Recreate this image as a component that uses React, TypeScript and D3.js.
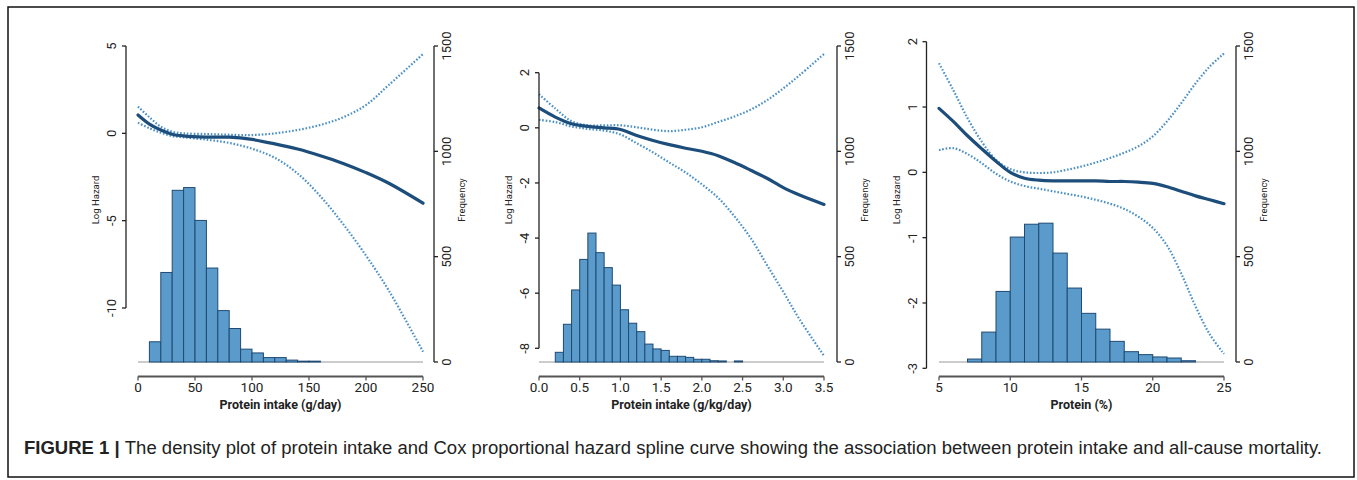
import React, { useEffect, useRef } from "react";
import * as d3 from "d3";

// ---- data ----
// panel 1: protein intake (g/day)
const gdayBins = [10, 20, 30, 40, 50, 60, 70, 80, 90, 100, 110, 120, 130, 140, 150];
const gdayFreq = [96, 425, 815, 828, 672, 446, 244, 159, 61, 43, 21, 21, 9, 4, 4];
const gdayX = [0, 10, 20, 30, 40, 60, 80, 100, 120, 140, 160, 180, 200, 220, 250];
const gdayFit = [1.05, 0.53, 0.19, -0.05, -0.15, -0.22, -0.22, -0.35, -0.6, -0.9, -1.28, -1.72, -2.25, -2.86, -4.0];
const gdayUpper = [1.53, 0.92, 0.38, 0.1, 0.0, -0.04, -0.08, -0.1, 0.0, 0.19, 0.48, 0.92, 1.62, 2.77, 4.54];
const gdayLower = [0.61, 0.29, 0.04, -0.15, -0.23, -0.36, -0.55, -0.88, -1.4, -2.3, -3.6, -5.2, -7.0, -9.0, -12.5];

// panel 2: protein intake (g/kg/day)
const gkgBins = [0.2, 0.3, 0.4, 0.5, 0.6, 0.7, 0.8, 0.9, 1.0, 1.1, 1.2, 1.3, 1.4, 1.5, 1.6, 1.7, 1.8, 1.9, 2.0, 2.1, 2.2, 2.3, 2.4];
const gkgFreq = [46, 179, 342, 487, 612, 519, 448, 365, 248, 184, 144, 85, 62, 55, 27, 27, 22, 13, 13, 6, 5, 0, 5];
const gkgX = [0, 0.2, 0.4, 0.6, 0.8, 1.0, 1.2, 1.4, 1.6, 1.8, 2.0, 2.2, 2.4, 2.6, 2.8, 3.0, 3.2, 3.5];
const gkgFit = [0.72, 0.39, 0.15, 0.05, 0.0, -0.06, -0.28, -0.46, -0.61, -0.74, -0.85, -1.01, -1.26, -1.54, -1.83, -2.17, -2.44, -2.78];
const gkgUpper = [1.22, 0.7, 0.24, 0.09, 0.09, 0.09, 0.02, -0.07, -0.12, -0.07, 0.02, 0.21, 0.41, 0.66, 1.0, 1.43, 1.91, 2.68];
const gkgLower = [0.29, 0.21, 0.05, -0.04, -0.1, -0.24, -0.56, -0.89, -1.26, -1.62, -2.05, -2.54, -3.21, -4.0, -4.98, -5.95, -6.95, -8.27];

// panel 3: protein (% energy)
const pctBins = [7, 8, 9, 10, 11, 12, 13, 14, 15, 16, 17, 18, 19, 20, 21, 22];
const pctFreq = [14, 142, 335, 593, 654, 659, 517, 351, 231, 156, 98, 49, 35, 24, 19, 6];
const pctX = [5, 6, 7, 8, 9, 10, 11, 12, 13, 14, 15, 16, 17, 18, 19, 20, 21, 22, 23, 24, 25];
const pctFit = [0.98, 0.78, 0.56, 0.36, 0.17, 0.0, -0.09, -0.12, -0.13, -0.13, -0.13, -0.13, -0.14, -0.14, -0.15, -0.17, -0.22, -0.29, -0.36, -0.42, -0.48];
const pctUpper = [1.67, 1.26, 0.83, 0.47, 0.19, 0.05, 0.0, -0.01, 0.0, 0.04, 0.09, 0.15, 0.22, 0.3, 0.4, 0.55, 0.78, 1.06, 1.36, 1.62, 1.82];
const pctLower = [0.34, 0.37, 0.28, 0.14, -0.02, -0.14, -0.21, -0.25, -0.29, -0.33, -0.37, -0.42, -0.48, -0.56, -0.68, -0.85, -1.12, -1.55, -2.05, -2.48, -2.78];

const freqTicks = [0, 500, 1000, 1500];

const panels = [
  {
    bins: gdayBins, freq: gdayFreq, binW: 10,
    x: gdayX, fit: gdayFit, upper: gdayUpper, lower: gdayLower,
    xDomain: [0, 250], xRange: [138, 423], xTicks: [0, 50, 100, 150, 200, 250], xFmt: (d) => String(d),
    yDomain: [5, -10], yRange: [46, 308], yTicks: [5, 0, -5, -10],
    leftX: 126, rightX: 434, title: "Protein intake (g/day)",
  },
  {
    bins: gkgBins, freq: gkgFreq, binW: 0.1,
    x: gkgX, fit: gkgFit, upper: gkgUpper, lower: gkgLower,
    xDomain: [0, 3.5], xRange: [539, 824], xTicks: [0, 0.5, 1, 1.5, 2, 2.5, 3, 3.5], xFmt: (d) => d.toFixed(1),
    yDomain: [2, -8], yRange: [72.7, 348.3], yTicks: [2, 0, -2, -4, -6, -8],
    leftX: 539, rightX: 837, title: "Protein intake (g/kg/day)",
  },
  {
    bins: pctBins, freq: pctFreq, binW: 1,
    x: pctX, fit: pctFit, upper: pctUpper, lower: pctLower,
    xDomain: [5, 25], xRange: [939, 1224], xTicks: [5, 10, 15, 20, 25], xFmt: (d) => String(d),
    yDomain: [2, -3], yRange: [41.7, 368.3], yTicks: [2, 1, 0, -1, -2, -3],
    leftX: 926.5, rightX: 1236, title: "Protein (%)",
  },
];

const BAR_FILL = "#5a9bcb";
const BAR_STROKE = "#1f4a73";
const FIT_COLOR = "#1d4e7b";
const CI_COLOR = "#4b90c6";
const FONT = "Roboto, 'Liberation Sans', sans-serif";

const App = () => {
  const ref = useRef(null);

  useEffect(() => {
    const svg = d3.select(ref.current);
    svg.selectAll("*").remove();

    // figure frame
    svg.append("rect")
      .attr("x", 8).attr("y", 7).attr("width", 1346).attr("height", 470)
      .attr("fill", "none").attr("stroke", "#111").attr("stroke-width", 1.5);

    panels.forEach((p) => {
      const g = svg.append("g");
      const x = d3.scaleLinear().domain(p.xDomain).range(p.xRange);
      const y = d3.scaleLinear().domain(p.yDomain).range(p.yRange);
      const yf = d3.scaleLinear().domain([0, 1500]).range([362, 46]);

      // baseline of the histogram
      g.append("line")
        .attr("x1", p.xRange[0]).attr("x2", p.xRange[1])
        .attr("y1", yf(0)).attr("y2", yf(0))
        .attr("stroke", "#9a9a9a").attr("stroke-width", 1.2);

      // histogram
      g.selectAll("rect.bar")
        .data(p.bins.map((b, i) => ({ b, f: p.freq[i] })).filter((d) => d.f > 0))
        .enter()
        .append("rect")
        .attr("class", "bar")
        .attr("x", (d) => x(d.b))
        .attr("width", (d) => x(d.b + p.binW) - x(d.b))
        .attr("y", (d) => yf(d.f))
        .attr("height", (d) => yf(0) - yf(d.f))
        .attr("fill", BAR_FILL)
        .attr("stroke", BAR_STROKE)
        .attr("stroke-width", 1);

      const line = d3.line()
        .x((d) => x(d[0]))
        .y((d) => y(d[1]))
        .curve(d3.curveCatmullRom.alpha(0.5));

      const pts = (vals) => p.x.map((v, i) => [v, vals[i]]);

      [p.upper, p.lower].forEach((vals) => {
        g.append("path")
          .attr("d", line(pts(vals)))
          .attr("fill", "none")
          .attr("stroke", CI_COLOR)
          .attr("stroke-width", 2.2)
          .attr("stroke-dasharray", "1.6,1.8");
      });
      g.append("path")
        .attr("d", line(pts(p.fit)))
        .attr("fill", "none")
        .attr("stroke", FIT_COLOR)
        .attr("stroke-width", 3.2)
        .attr("stroke-linecap", "round");

      // left axis (log hazard)
      const yt = p.yTicks;
      g.append("line")
        .attr("x1", p.leftX).attr("x2", p.leftX)
        .attr("y1", y(yt[0])).attr("y2", y(yt[yt.length - 1]))
        .attr("stroke", "#222").attr("stroke-width", 1.3);
      yt.forEach((t) => {
        g.append("line")
          .attr("x1", p.leftX - 4).attr("x2", p.leftX)
          .attr("y1", y(t)).attr("y2", y(t))
          .attr("stroke", "#222").attr("stroke-width", 1.3);
        g.append("text")
          .attr("transform", `translate(${p.leftX - 10},${y(t)}) rotate(-90)`)
          .attr("text-anchor", "middle")
          .attr("font-family", FONT).attr("font-size", 13).attr("fill", "#222")
          .text(String(t));
      });
      g.append("text")
        .attr("transform", `translate(${p.leftX - 27},200) rotate(-90)`)
        .attr("text-anchor", "middle")
        .attr("font-family", FONT).attr("font-size", 9.5).attr("fill", "#222")
        .text("Log Hazard");

      // right axis (frequency)
      g.append("line")
        .attr("x1", p.rightX).attr("x2", p.rightX)
        .attr("y1", yf(1500)).attr("y2", yf(0))
        .attr("stroke", "#222").attr("stroke-width", 1.3);
      freqTicks.forEach((t) => {
        g.append("line")
          .attr("x1", p.rightX).attr("x2", p.rightX + 4)
          .attr("y1", yf(t)).attr("y2", yf(t))
          .attr("stroke", "#222").attr("stroke-width", 1.3);
        g.append("text")
          .attr("transform", `translate(${p.rightX + 17},${yf(t)}) rotate(-90)`)
          .attr("text-anchor", "middle")
          .attr("font-family", FONT).attr("font-size", 13).attr("fill", "#222")
          .text(String(t));
      });
      g.append("text")
        .attr("transform", `translate(${p.rightX + 31},200) rotate(-90)`)
        .attr("text-anchor", "middle")
        .attr("font-family", FONT).attr("font-size", 9.5).attr("fill", "#222")
        .text("Frequency");

      // bottom axis
      const axY = 376.5;
      g.append("line")
        .attr("x1", p.xRange[0]).attr("x2", p.xRange[1])
        .attr("y1", axY).attr("y2", axY)
        .attr("stroke", "#555").attr("stroke-width", 1.8);
      p.xTicks.forEach((t) => {
        g.append("line")
          .attr("x1", x(t)).attr("x2", x(t))
          .attr("y1", axY).attr("y2", axY + 4)
          .attr("stroke", "#555").attr("stroke-width", 1.3);
        g.append("text")
          .attr("x", x(t)).attr("y", 392)
          .attr("text-anchor", "middle")
          .attr("font-family", FONT).attr("font-size", 13.5).attr("fill", "#222")
          .text(p.xFmt(t));
      });
      g.append("text")
        .attr("x", (p.xRange[0] + p.xRange[1]) / 2).attr("y", 409)
        .attr("text-anchor", "middle")
        .attr("font-family", FONT).attr("font-size", 12.5).attr("font-weight", "bold").attr("fill", "#222")
        .text(p.title);
    });

    // caption
    const cap = svg.append("text")
      .attr("x", 24).attr("y", 454)
      .attr("font-family", "'Liberation Sans', Arial, sans-serif")
      .attr("font-size", 17.5).attr("fill", "#222")
      .attr("textLength", 1298).attr("lengthAdjust", "spacingAndGlyphs");
    cap.append("tspan").attr("font-weight", "bold").text("FIGURE 1 | ");
    cap.append("tspan").text("The density plot of protein intake and Cox proportional hazard spline curve showing the association between protein intake and all-cause mortality.");
  }, []);

  return (
    <svg ref={ref} width={1357} height={480} style={{ position: "absolute", left: 0, top: 0, background: "#fff" }} />
  );
};

export default App;
